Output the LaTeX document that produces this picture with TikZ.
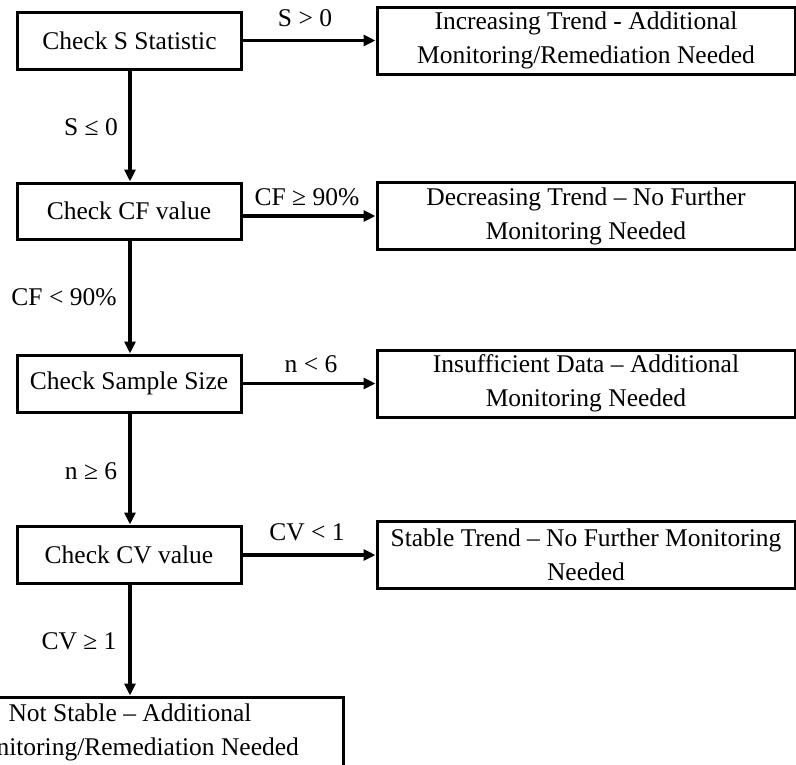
\documentclass[tikz,border=0pt]{standalone}
\usepackage{fontspec}
\setmainfont{Liberation Serif}
\usetikzlibrary{arrows.meta}
\begin{document}
\begin{tikzpicture}[x=1pt,y=-1pt,
  every node/.style={font=\fontsize{25.5}{34}\selectfont, inner sep=0pt},
  leftbox/.style={draw, line width=3pt, minimum width=224pt, minimum height=57pt, align=center},
  rightbox/.style={draw, line width=3pt, minimum width=418pt, minimum height=67pt, align=center},
  conn/.style={line width=3.2pt, -{Triangle[length=12pt,width=11pt]}},
  lbl/.style={}]
\useasboundingbox (0,0) rectangle (796,764);
\clip (0,0) rectangle (796,764);
\fill[white] (0,0) rectangle (796,764);
% left column
\node[leftbox] (s1) at (129.5,41) {Check S Statistic};
\node[leftbox, minimum height=56pt] (s2) at (129,211) {Check CF value};
\node[leftbox] (s3) at (129,383.5) {Check Sample Size};
\node[leftbox] (s4) at (129,554.5) {Check CV value};
\node[draw, line width=3pt, minimum width=426pt, minimum height=70pt, align=center] (s5) at (130,732) {Not Stable -- Additional\\Monitoring/Remediation Needed};
% right column
\node[rightbox] (r1) at (586,40.5) {Increasing Trend - Additional\\Monitoring/Remediation Needed};
\node[rightbox] (r2) at (586,216) {Decreasing Trend -- No Further\\Monitoring Needed};
\node[rightbox] (r3) at (586,383.5) {Insufficient Data -- Additional\\Monitoring Needed};
\node[rightbox] (r4) at (586,555) {Stable Trend -- No Further Monitoring\\Needed};
% connectors
\draw[conn] (s1.east |- r1.west) -- (r1.west);
\draw[conn] (s2.east |- r2.west) -- (r2.west);
\draw[conn] (s3.east |- r3.west) -- (r3.west);
\draw[conn] (s4.east |- r4.west) -- (r4.west);
\draw[conn] ([xshift=0.5pt]s1.south) -- ([xshift=0.5pt]s1.south |- s2.north);
\draw[conn] ([xshift=1pt]s2.south) -- ([xshift=1pt]s2.south |- s3.north);
\draw[conn] ([xshift=1pt]s3.south) -- ([xshift=1pt]s3.south |- s4.north);
\draw[conn] ([xshift=1pt]s4.south) -- ([xshift=1pt]s4.south |- s5.north);
% labels
\node[lbl] (l1) at (305,18) {S > 0};
\node[lbl] (l2) at (91,127) {S ≤ 0};
\node[lbl] (l3) at (307,197) {CF ≥ 90\%};
\node[lbl] (l4) at (64,297) {CF < 90\%};
\node[lbl] (l5) at (311,364) {n < 6};
\node[lbl] (l6) at (91,471) {n ≥ 6};
\node[lbl] (l7) at (307,532) {CV < 1};
\node[lbl] (l8) at (79,641) {CV ≥ 1};
\end{tikzpicture}
\end{document}
